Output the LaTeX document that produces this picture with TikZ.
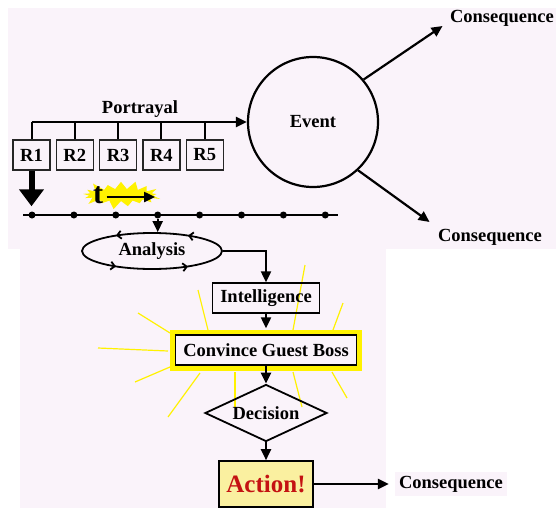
\documentclass[tikz,border=0pt]{standalone}
\usepackage{fontspec}
\setmainfont{Liberation Serif}
\usetikzlibrary{arrows.meta,shapes.geometric,shapes.symbols,decorations.markings,positioning}
\definecolor{fondo}{RGB}{250,243,250}
\definecolor{crema}{RGB}{250,240,160}
\definecolor{rojo}{RGB}{196,18,18}
\tikzset{
  flecha/.style={line width=2.2pt,-{Triangle[length=11pt,width=10pt]}},
  caja/.style={draw=black,line width=1.4pt,minimum height=30pt,inner sep=3pt},
  rcaja/.style={draw=black!85,line width=1.2pt,minimum width=37pt,minimum height=30pt,inner sep=0pt},
  rayo/.style={yellow,line width=1.2pt},
  punto/.style={circle,fill=black,inner sep=0pt,minimum size=7pt},
  ciclo/.style={postaction=decorate,decoration={markings,
    mark=at position 0.13 with {\arrow{Straight Barb[length=4pt,width=8pt]}},
    mark=at position 0.37 with {\arrow{Straight Barb[length=4pt,width=8pt]}},
    mark=at position 0.63 with {\arrow{Straight Barb[length=4pt,width=8pt]}},
    mark=at position 0.87 with {\arrow{Straight Barb[length=4pt,width=8pt]}}}}
}
\begin{document}
\begin{tikzpicture}[x=1pt,y=-1pt,every node/.style={font=\bfseries\fontsize{18.5}{20}\selectfont}]
\useasboundingbox (0,0) rectangle (556,508);
    %Fondo
    \fill[fondo] (8,8) rectangle (556,249);
    \fill[fondo] (20,249) rectangle (386,508);

    %Rayos amarillos
    \foreach \a/\b/\c/\d in {305/265/293/330, 198/290/208/330, 138/313/170/333, 98/348/168/351,
        135/382/170/367, 168/417/200/373, 235/372/235/407, 293/372/302/407, 332/372/347/398, 343/303/333/330}{
        \draw[rayo] (\a,\b) -- (\c,\d);
    }

    %Evento y consecuencias
    \node[circle,draw,line width=2.2pt,minimum size=130pt] (ev) at (313,122) {Event};
    \node (cq1) at (502,18) {Consequence};
    \node (cq2) at (490,237) {Consequence};
    \draw[flecha] (ev.40) -- ([xshift=-4pt,yshift=-8pt]cq1.west);
    \draw[flecha] (ev.313) -- ([xshift=-5pt,yshift=15pt]cq2.west);

    %Retratos
    \foreach \i in {1,...,5}{
        \node[rcaja] (r\i) at ({31.5+43.3*(\i-1)},155) {R\i};
        \draw[line width=2pt] (r\i.north) -- (r\i.north |- ev.west);
    }
    \draw[flecha] (r1.north |- ev.west) -- (ev.west);
    \node (port) at (140,109) {Portrayal};

    %Linea de tiempo
    \draw[line width=2.2pt] (23,215) -- (338,215);
    \foreach \k in {1,...,8}
        \node[punto] (d\k) at ({32+41.9*(\k-1)},215) {};
    \draw[line width=6pt,-{Triangle[length=17pt,width=24pt]},shorten >=5pt] (r1.south) -- (r1.south |- d1.north);

    %t
    \node[starburst,fill=yellow,draw=none,minimum width=84pt,minimum height=32pt,
        starburst point height=10pt,inner sep=0pt] (brillo) at (121,195) {};
    \node[font=\bfseries\fontsize{30}{30}\selectfont] (t) at (98,195) {t};
    \coordinate (tfin) at (155,197);
    \draw[line width=2.4pt,-{Triangle[length=11pt,width=10pt]}] (t.east |- tfin) -- (tfin);

    %Flujo
    \node[ellipse,draw,line width=1.8pt,minimum width=140pt,minimum height=36pt,inner sep=0pt,ciclo] (ana) at (152,251) {Analysis};
    \draw[flecha] (d4) -- (d4 |- ana.north);
    \node[caja,minimum width=107pt] (intel) at (266,298) {Intelligence};
    \draw[flecha] (ana.east) -| (intel.north);
    \node[caja,minimum width=181pt,fill=fondo,preaction={draw=yellow,line width=11pt}] (cgb) at (266,350) {Convince Guest Boss};
    \draw[flecha] (intel.south) -- ([yshift=6pt]cgb.north);
    \node[diamond,draw,line width=1.8pt,minimum width=122pt,minimum height=57pt,inner sep=0pt,shape aspect=2.1] (dec) at (266,413) {Decision};
    \draw[flecha] (cgb.south) -- (dec.north);
    \node[draw,line width=1.6pt,fill=crema,text=rojo,font=\bfseries\fontsize{25}{27}\selectfont,
        minimum width=94pt,minimum height=46pt] (acc) at (266,484) {Action!};
    \draw[flecha] (dec.south) -- (acc.north);
    \node[fill=fondo,inner sep=4pt] (cq3) at (451,484) {Consequence};
    \draw[flecha,shorten >=6pt] (acc.east) -- (cq3.west);
\end{tikzpicture}
\end{document}
